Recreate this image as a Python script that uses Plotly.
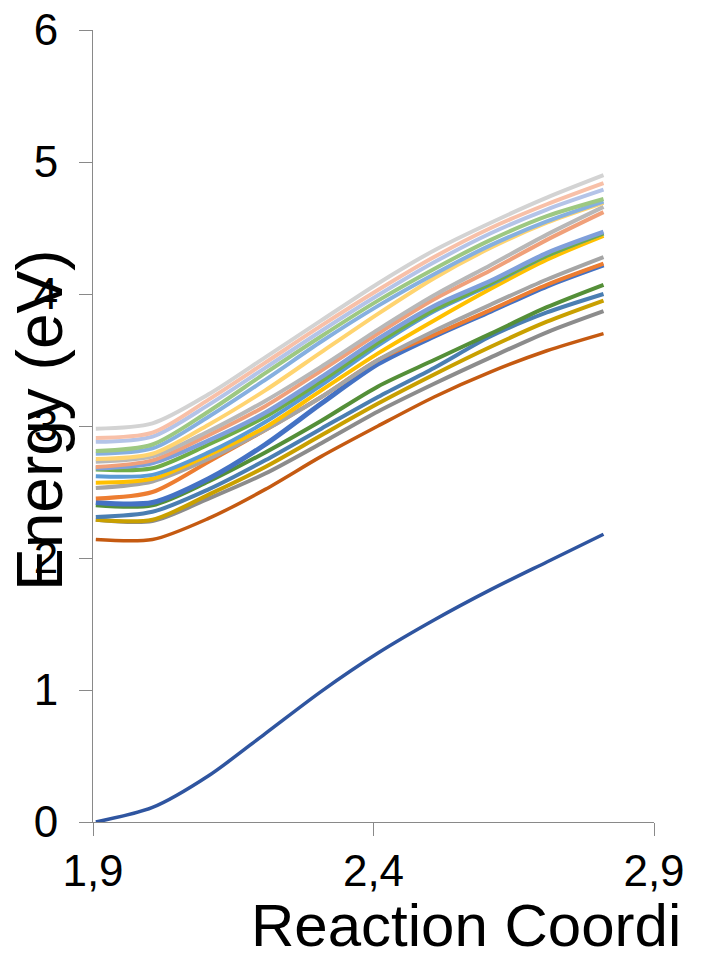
import plotly.graph_objects as go

# Reaction coordinate sample points
x_coord = [1.905, 2.006, 2.106, 2.207, 2.307, 2.408, 2.508, 2.609, 2.709, 2.81]

# Ground state
ground = [0.00, 0.11, 0.35, 0.67, 0.99, 1.28, 1.53, 1.76, 1.97, 2.18]

# Excited states
s20_brown = [2.14, 2.14, 2.30, 2.52, 2.77, 3.00, 3.22, 3.41, 3.57, 3.70]
s19_gray_dark = [2.29, 2.28, 2.45, 2.64, 2.87, 3.11, 3.32, 3.52, 3.71, 3.87]
s18_gold = [2.29, 2.29, 2.48, 2.69, 2.93, 3.17, 3.39, 3.60, 3.79, 3.95]
s17_steel = [2.31, 2.35, 2.52, 2.74, 2.98, 3.22, 3.44, 3.68, 3.86, 4.00]
s16_dkgreen = [2.40, 2.40, 2.58, 2.80, 3.04, 3.30, 3.50, 3.70, 3.90, 4.07]
s15_blue = [2.42, 2.42, 2.60, 2.86, 3.17, 3.47, 3.68, 3.87, 4.06, 4.22]
s14_orange = [2.45, 2.50, 2.73, 2.97, 3.22, 3.50, 3.69, 3.88, 4.07, 4.23]
s13_gray = [2.53, 2.58, 2.75, 2.97, 3.22, 3.50, 3.72, 3.92, 4.11, 4.28]
s12_yellow = [2.57, 2.60, 2.78, 2.99, 3.27, 3.55, 3.80, 4.04, 4.26, 4.44]
s11_ltblue = [2.62, 2.63, 2.80, 3.03, 3.31, 3.61, 3.87, 4.07, 4.29, 4.46]
s10_green = [2.67, 2.68, 2.86, 3.07, 3.34, 3.63, 3.88, 4.08, 4.29, 4.46]
s9_periwinkle = [2.68, 2.72, 2.89, 3.10, 3.37, 3.66, 3.91, 4.10, 4.31, 4.47]
s8_salmon = [2.69, 2.74, 2.93, 3.15, 3.42, 3.70, 3.96, 4.18, 4.41, 4.62]
s7_ltgray = [2.73, 2.77, 2.96, 3.19, 3.45, 3.73, 3.99, 4.22, 4.45, 4.66]
s6_ltyellow = [2.75, 2.79, 3.01, 3.27, 3.56, 3.85, 4.12, 4.35, 4.54, 4.69]
s5_paleblue = [2.79, 2.83, 3.07, 3.35, 3.64, 3.91, 4.15, 4.37, 4.55, 4.70]
s4_ltgreen = [2.81, 2.86, 3.11, 3.40, 3.68, 3.95, 4.19, 4.41, 4.59, 4.72]
s3_lavender = [2.88, 2.92, 3.16, 3.44, 3.72, 3.99, 4.24, 4.46, 4.64, 4.79]
s2_ltsalmon = [2.91, 2.95, 3.20, 3.48, 3.76, 4.03, 4.28, 4.50, 4.68, 4.84]
s1_silver = [2.98, 3.02, 3.24, 3.52, 3.80, 4.08, 4.33, 4.54, 4.73, 4.90]

x_tickvals = [1.9, 2.4, 2.9]
x_ticktext = ["1,9", "2,4", "2,9"]
y_tickvals = [0, 1, 2, 3, 4, 5, 6]
y_ticktext = ["0", "1", "2", "3", "4", "5", "6"]

series = [
    (ground, "#2F55A0", 3.5),
    (s20_brown, "#C55A11", 3.5),
    (s19_gray_dark, "#8C8C8C", 4),
    (s18_gold, "#C9A000", 4),
    (s17_steel, "#4A7EB2", 4),
    (s16_dkgreen, "#548F38", 4),
    (s15_blue, "#4472C4", 5),
    (s14_orange, "#ED7D31", 4),
    (s13_gray, "#A5A5A5", 4),
    (s12_yellow, "#FFC000", 4),
    (s11_ltblue, "#5B9BD5", 4),
    (s10_green, "#70AD47", 4),
    (s9_periwinkle, "#7F9FDA", 4.5),
    (s8_salmon, "#F0A07A", 4),
    (s7_ltgray, "#B8B8B8", 4),
    (s6_ltyellow, "#FFD470", 4),
    (s5_paleblue, "#86B0E0", 4),
    (s4_ltgreen, "#9DC882", 4),
    (s3_lavender, "#B4C4E8", 4),
    (s2_ltsalmon, "#F8C0A8", 4),
    (s1_silver, "#D3D3D3", 4),
]

fig = go.Figure()
for vals, col, w in series:
    fig.add_trace(go.Scatter(
        x=x_coord, y=vals, mode="lines",
        line=dict(color=col, width=w, shape="spline", smoothing=0.8),
        showlegend=False, hoverinfo="skip",
    ))

axis_col = "#898989"
font_family = "Liberation Sans, Arial, sans-serif"

fig.update_layout(
    width=705, height=959,
    margin=dict(l=93, r=51, t=30, b=137),
    plot_bgcolor="white", paper_bgcolor="white",
    font=dict(family=font_family, color="black"),
    xaxis=dict(
        range=[1.9, 2.9], showgrid=False, zeroline=False, automargin=False,
        showline=True, linecolor=axis_col, linewidth=1,
        ticks="outside", ticklen=13, tickcolor=axis_col, tickwidth=1,
        tickvals=x_tickvals, ticktext=x_ticktext, ticklabelstandoff=-3,
        tickfont=dict(size=44, family=font_family, color="black"),
    ),
    yaxis=dict(
        range=[0, 6], showgrid=False, zeroline=False, automargin=False,
        showline=True, linecolor=axis_col, linewidth=1,
        ticks="outside", ticklen=13, tickcolor=axis_col, tickwidth=1,
        tickvals=y_tickvals, ticktext=y_ticktext, ticklabelstandoff=12,
        tickfont=dict(size=44, family=font_family, color="black"),
    ),
    annotations=[
        dict(text="Energy (eV)", textangle=-90, xref="paper", yref="paper",
             x=-0.0945, y=0.5076, xanchor="center", yanchor="middle",
             showarrow=False, borderpad=0,
             font=dict(size=64, family=font_family, color="black")),
        dict(text="Reaction Coordi", xref="paper", yref="paper",
             x=0.2799, y=-0.1313, xanchor="left", yanchor="middle",
             showarrow=False, borderpad=0,
             font=dict(size=60, family=font_family, color="black")),
    ],
)

fig.write_html("out.html")
